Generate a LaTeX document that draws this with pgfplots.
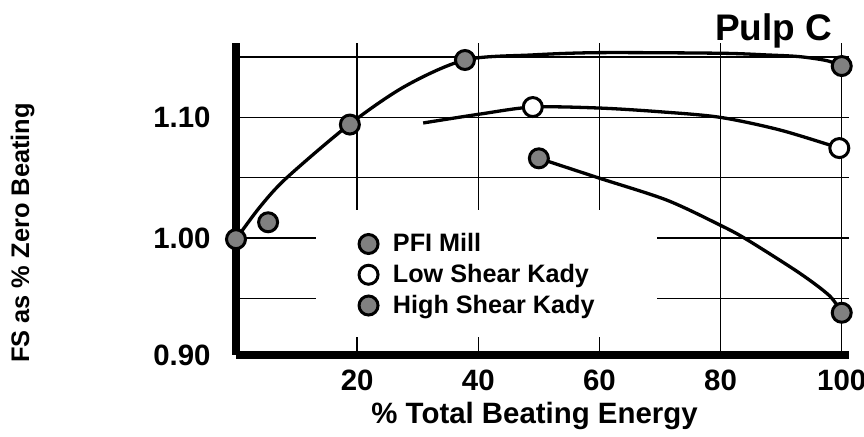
\documentclass[border=0pt]{standalone}
\usepackage{fontspec}
\setmainfont{Liberation Sans}
\usepackage{pgfplots}
\pgfplotsset{compat=1.18}
\definecolor{dotgray}{RGB}{128,128,128}

\begin{document}
\begin{tikzpicture}
\useasboundingbox (-118pt,-41pt) rectangle (314pt,177.5pt);
\begin{axis}[
  scale only axis,
  width=306.5pt, height=156pt,
  xmin=0, xmax=101.2,
  ymin=0.903, ymax=1.1616,
  clip=false,
  axis lines=left,
  axis line style={-, line width=4pt},
  xtick={20,40,60,80,100},
  % bottom tick sits on the axis line, labelled 0.90 as in the original
  ytick={0.903,0.95,1.00,1.05,1.10,1.15},
  yticklabels={0.90,,1.00,,1.10,},
  major tick length=0pt,
  xmajorgrids, ymajorgrids,
  grid style={black, line width=0.65pt},
  /pgf/number format/assume math mode=true,
  tick label style={font=\fontsize{14.7}{17}\selectfont\bfseries},
  xticklabel style={anchor=center, inner sep=0pt, yshift=-12.75pt},
  yticklabel style={anchor=east, inner sep=0pt, xshift=-12.5pt},
  xlabel={\% Total Beating Energy},
  ylabel={FS as \% Zero Beating},
  title={Pulp C},
  xlabel style={at={(axis description cs:0.487,-0.218)}, anchor=base,
    font=\fontsize{14.7}{17}\selectfont\bfseries},
  ylabel style={at={(axis description cs:-0.348,0.391)}, anchor=center,
    font=\fontsize{12.7}{15}\selectfont\bfseries},
  title style={at={(axis description cs:0.877,0.971)}, anchor=base, yshift=0pt,
    font=\fontsize{18.5}{21}\selectfont\bfseries},
  legend style={draw=none, fill=none, at={(axis cs:20.1,0.9695)}, anchor=west,
    inner sep=0pt, row sep=0.75pt, font=\fontsize{12.6}{15}\selectfont\bfseries},
  legend cell align=left,
  % move-to only path: widens the image so the text starts further right
  legend image code/.code={\path (0pt,0pt) (15pt,0pt);
    \draw[#1] plot coordinates {(5pt,0pt)};},
  fitline/.style={black, line width=1.65pt, smooth, no markers, forget plot},
  dot/.style={only marks, mark=*, mark size=4.75pt,
    mark options={draw=black, line width=1.5pt, fill=#1}},
]
% white panel behind the legend hides the grid
\fill[white] (axis cs:13.2,0.9178) rectangle (axis cs:69.5,1.0231);

% fitted curves
\addplot[fitline] coordinates {(0,0.999)(4,1.026)(8.4,1.05)(18.8,1.0944)(28,1.126)
  (37.8,1.1475)(48.9,1.1517)(59.9,1.1536)(79.9,1.1531)(87.6,1.1517)(93,1.1503)
  (97.5,1.147)(100,1.1425)};
\addplot[fitline] coordinates {(30.9,1.0953)(40.3,1.1027)(49,1.1085)(59.9,1.1077)
  (70,1.1046)(79.9,1.1)(89.8,1.0895)(99.6,1.0745)};
\addplot[fitline] coordinates {(50,1.066)(59.9,1.0497)(71.1,1.0314)(79.9,1.0107)
  (84.3,0.9988)(93,0.971)(98,0.952)(100,0.9377)};

% measured points
\addplot[dot=dotgray] coordinates {(0,0.999)(5.3,1.013)(18.8,1.094)(37.8,1.1475)(100,1.1425)};
\addlegendentry{PFI Mill}
\addplot[dot=white] coordinates {(49,1.1085)(99.6,1.0745)};
\addlegendentry{Low Shear Kady}
\addplot[dot=dotgray] coordinates {(50,1.066)(100,0.938)};
\addlegendentry{High Shear Kady}
\end{axis}
\end{tikzpicture}
\end{document}
